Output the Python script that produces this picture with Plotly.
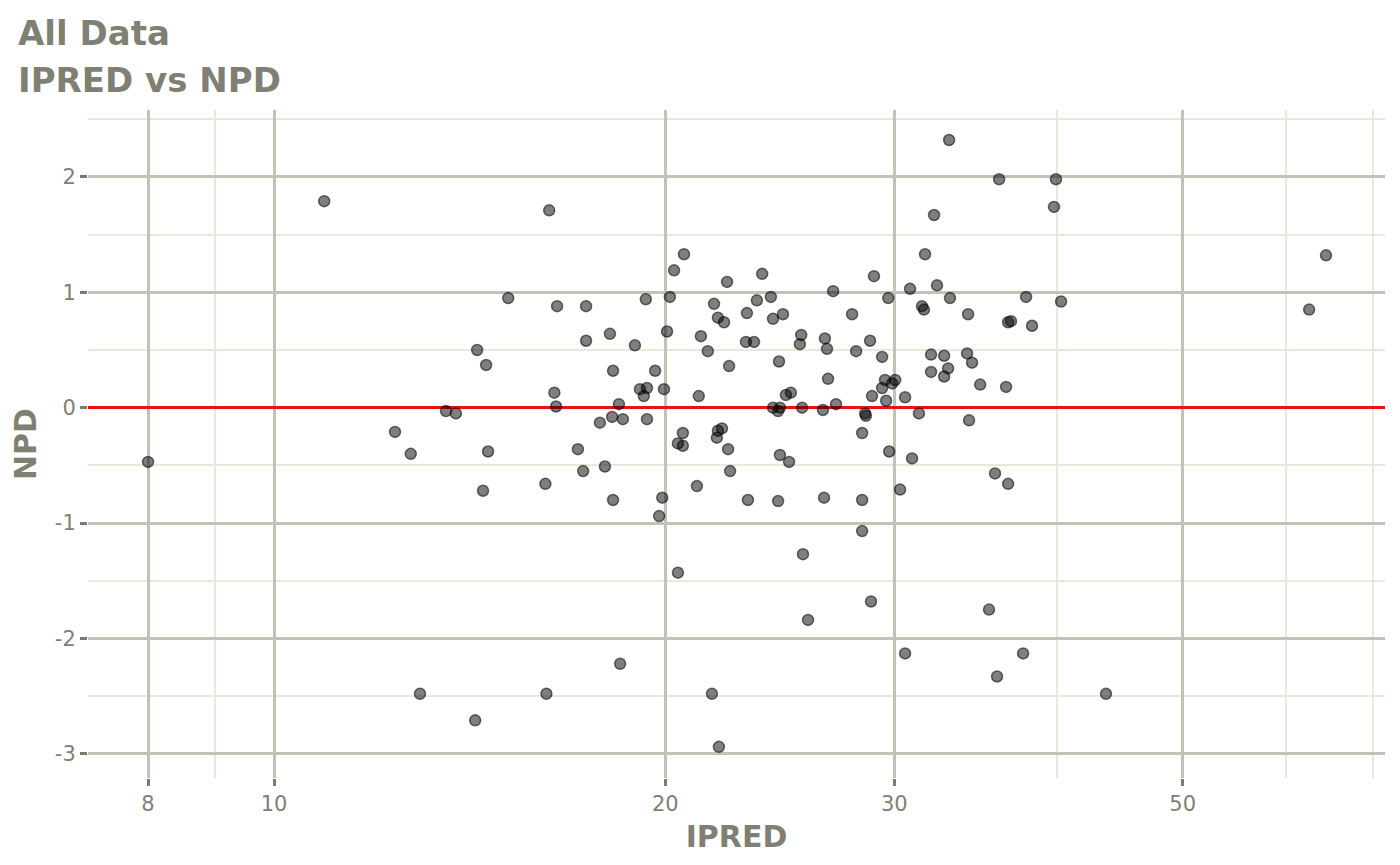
import numpy as np
import plotly.graph_objects as go

ipred = [8.00, 10.93, 12.39, 12.74, 12.95, 13.56, 13.80, 14.28, 14.33, 14.48,
         14.56, 14.61, 15.14, 16.17, 16.20, 16.28, 16.43, 16.48, 16.51, 17.13,
         17.29, 17.38, 17.38, 17.81, 17.97, 18.13, 18.20, 18.23, 18.23, 18.42,
         18.46, 18.55, 18.95, 19.12, 19.25, 19.32, 19.36, 19.36, 19.64, 19.78,
         19.89, 19.95, 20.06, 20.16, 20.31, 20.45, 20.45, 20.63, 20.63, 20.67,
         21.15, 21.22, 21.30, 21.56, 21.72, 21.80, 21.91, 21.95, 21.95, 21.99,
         22.11, 22.19, 22.31, 22.35, 22.39, 22.43, 23.07, 23.11, 23.15, 23.40,
         23.52, 23.74, 24.11, 24.20, 24.20, 24.42, 24.42, 24.46, 24.50, 24.50,
         24.63, 24.76, 24.90, 24.98, 25.38, 25.44, 25.48, 25.52, 25.75, 26.44,
         26.49, 26.53, 26.63, 26.68, 26.92, 27.06, 27.84, 28.04, 28.34, 28.34,
         28.34, 28.49, 28.53, 28.74, 28.84, 28.79, 28.94, 29.36, 29.36, 29.51,
         29.57, 29.68, 29.73, 29.89, 30.05, 30.31, 30.58, 30.58, 30.85, 30.96,
         31.34, 31.51, 31.62, 31.68, 32.02, 32.02, 32.19, 32.36, 32.77, 32.77,
         33.00, 33.06, 33.11, 34.13, 34.19, 34.25, 34.43, 34.93, 35.48, 35.86,
         35.99, 36.12, 36.57, 36.70, 36.70, 36.89, 37.69, 37.89, 38.29, 39.81,
         39.95, 40.31, 43.65, 62.55, 64.45]

npd = [-0.47, 1.79, -0.21, -0.40, -2.48, -0.03, -0.05, -2.71, 0.50, -0.72,
       0.37, -0.38, 0.95, -0.66, -2.48, 1.71, 0.13, 0.01, 0.88, -0.36,
       -0.55, 0.88, 0.58, -0.13, -0.51, 0.64, -0.08, 0.32, -0.80, 0.03,
       -2.22, -0.10, 0.54, 0.16, 0.10, 0.94, 0.17, -0.10, 0.32, -0.94,
       -0.78, 0.16, 0.66, 0.96, 1.19, -1.43, -0.31, -0.33, -0.22, 1.33,
       -0.68, 0.10, 0.62, 0.49, -2.48, 0.90, -0.26, 0.78, -0.20, -2.94,
       -0.18, 0.74, 1.09, -0.36, 0.36, -0.55, 0.57, 0.82, -0.80, 0.57,
       0.93, 1.16, 0.96, 0.77, 0.00, -0.03, -0.81, 0.40, 0.00, -0.41,
       0.81, 0.11, -0.47, 0.13, 0.55, 0.63, 0.00, -1.27, -1.84, -0.02,
       -0.78, 0.60, 0.51, 0.25, 1.01, 0.03, 0.81, 0.49, -0.22, -0.80,
       -1.07, -0.05, -0.07, 0.58, 0.10, -1.68, 1.14, 0.44, 0.17, 0.24,
       0.06, 0.95, -0.38, 0.21, 0.24, -0.71, 0.09, -2.13, 1.03, -0.44,
       -0.05, 0.88, 0.85, 1.33, 0.46, 0.31, 1.67, 1.06, 0.45, 0.27,
       0.34, 2.32, 0.95, 0.47, 0.81, -0.11, 0.39, 0.20, -1.75, -0.57,
       -2.33, 1.98, 0.18, 0.74, -0.66, 0.75, -2.13, 0.96, 0.71, 1.74,
       1.98, 0.92, -2.48, 0.85, 1.32]

x_ticks = [8, 10, 20, 30, 50]
x_minor = [9, 40, 60, 70]
y_ticks = [-3, -2, -1, 0, 1, 2]
y_minor = [-2.5, -1.5, -0.5, 0.5, 1.5, 2.5]

title_lines = ["All Data", "IPRED vs NPD"]

FONT = "DejaVu Sans"
TXT = "#7f7f74"
MAJOR = "#c2c2b5"
MINOR = "#e8e8dc"

# page body has an 8px default margin; compensate so the picture lines up
PAGE_OFF = 8
W, H = 1400 - PAGE_OFF, 865 - PAGE_OFF
ML, MT = 88 - PAGE_OFF, 110 - PAGE_OFF
MR, MB = 15, 87
PW, PH = W - ML - MR, H - MT - MB

fig = go.Figure()
fig.add_trace(go.Scatter(
    x=ipred, y=npd, mode="markers",
    marker=dict(size=11, color="rgba(0,0,0,0.5)",
                line=dict(color="rgba(0,0,0,0.55)", width=1.5)),
    showlegend=False, hoverinfo="x+y"))

fig.update_layout(
    width=W, height=H,
    margin=dict(l=ML, r=MR, t=MT, b=MB),
    paper_bgcolor="white", plot_bgcolor="white",
    font=dict(family=FONT, color=TXT),
    xaxis=dict(type="log", range=[0.8569, 1.8546],
               tickvals=x_ticks, ticktext=[str(v) for v in x_ticks],
               showgrid=True, gridcolor=MAJOR, gridwidth=2.5,
               minor=dict(tickvals=x_minor, showgrid=True, gridcolor=MINOR, gridwidth=2),
               ticks="outside", ticklen=7, tickwidth=2.5, tickcolor="#7a7a72",
               tickfont=dict(size=21, color=TXT, family=FONT),
               zeroline=False, showline=False,
               title=dict(text="<b>IPRED</b>", font=dict(size=30, color=TXT, family=FONT), standoff=10)),
    yaxis=dict(range=[-3.21, 2.58],
               tickvals=y_ticks, ticktext=[str(v) for v in y_ticks],
               showgrid=True, gridcolor=MAJOR, gridwidth=2.5,
               minor=dict(tickvals=y_minor, showgrid=True, gridcolor=MINOR, gridwidth=2),
               ticks="outside", ticklen=7, tickwidth=2.5, tickcolor="#7a7a72",
               tickfont=dict(size=21, color=TXT, family=FONT),
               zeroline=True, zerolinecolor="#ee1111", zerolinewidth=2.5,
               showline=False,
               title=dict(text="<b>NPD</b>", font=dict(size=30, color=TXT, family=FONT), standoff=10)),
)

for i, t in enumerate(title_lines):
    fig.add_annotation(text="<b>" + t + "</b>", xref="paper", yref="paper",
                       x=(16 - 88) / PW, y=1 + (110 - (33 + 47 * i)) / PH,
                       xanchor="left", yanchor="middle", showarrow=False,
                       font=dict(size=34, color=TXT, family=FONT))

fig.write_html("out.html")
